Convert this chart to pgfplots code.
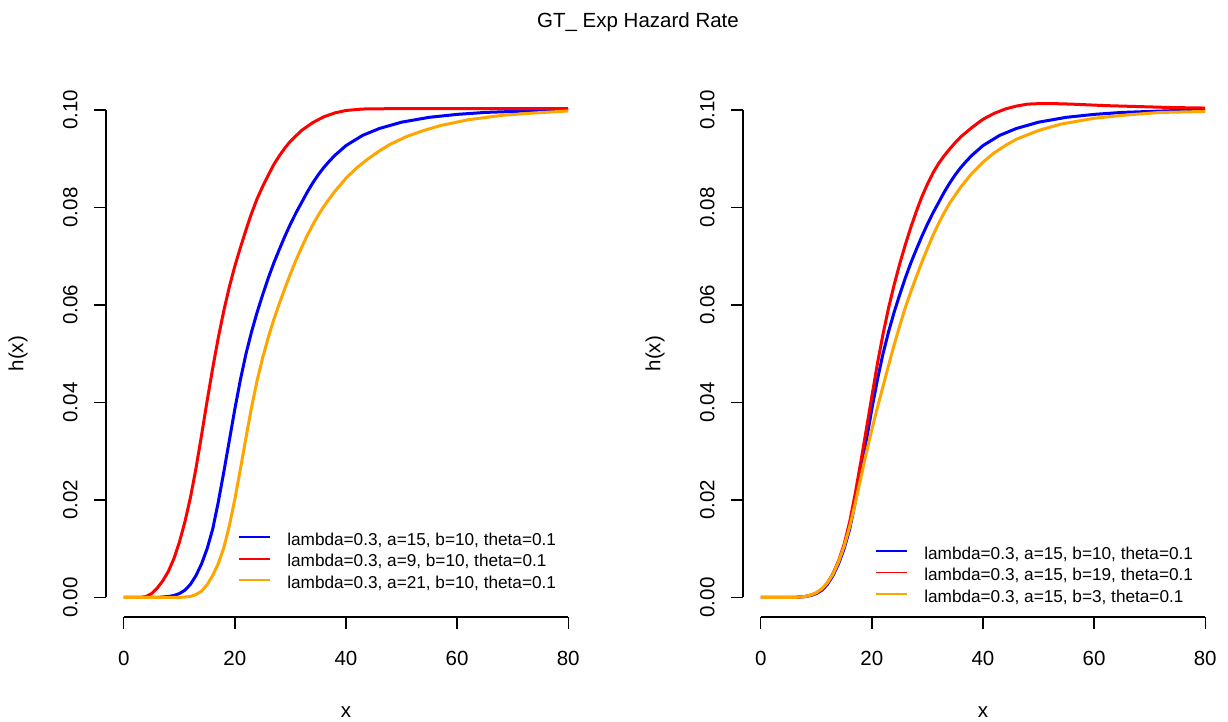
\documentclass[border=0pt]{standalone}
\usepackage{pgfplots}
\pgfplotsset{compat=1.18}
\usepackage{fontspec}
\setmainfont{Liberation Sans}
\definecolor{Rorange}{RGB}{255,165,0}
\newcommand{\mainsize}{\fontsize{10.25}{12}\selectfont}
\newcommand{\legsize}{\fontsize{8.6}{10}\selectfont}

\pgfplotstableread{
x y
0 0
6 0
8 0.0002
9 0.0004
10 0.0008
11 0.0015
12 0.0027
13 0.0045
14 0.0069
15 0.0100
16 0.0140
17 0.0195
18 0.0257
19 0.0322
20 0.0387
21 0.0447
22 0.0500
23 0.0545
24 0.0585
25 0.0621
26 0.0655
27 0.0686
28 0.0714
29 0.0741
30 0.0766
31 0.0789
32 0.0810
33 0.0831
34 0.0850
35 0.0867
36 0.0882
37 0.0895
38 0.0907
40 0.0927
43 0.0948
46 0.0962
50 0.0975
55 0.0985
60 0.0991
65 0.0995
70 0.0997
75 0.0999
80 0.1000
}\blueA

\pgfplotstableread{
x y
0 0
3 0
4 0.0002
5 0.0008
6 0.0019
7 0.0034
8 0.0053
9 0.0079
10 0.0113
11 0.0155
12 0.0205
13 0.0265
14 0.0333
15 0.0403
16 0.0470
17 0.0532
18 0.0588
19 0.0637
20 0.0680
21 0.0718
22 0.0754
23 0.0788
24 0.0818
25 0.0843
26 0.0866
27 0.0888
28 0.0906
29 0.0922
30 0.0936
32 0.0958
34 0.0974
36 0.0986
38 0.0994
40 0.0999
43 0.1002
50 0.1003
80 0.1003
}\redA

\pgfplotstableread{
x y
0 0
10 0
11 0.0001
12 0.0002
13 0.0006
14 0.0013
15 0.0026
16 0.0045
17 0.0069
18 0.0102
19 0.0147
20 0.0202
21 0.0264
22 0.0328
23 0.0390
24 0.0445
25 0.0492
26 0.0533
27 0.0570
28 0.0603
29 0.0634
30 0.0664
31 0.0692
32 0.0718
33 0.0742
34 0.0764
35 0.0784
36 0.0802
37 0.0818
38 0.0833
40 0.0860
42 0.0882
44 0.0900
46 0.0916
48 0.0930
51 0.0946
54 0.0958
57 0.0968
62 0.0980
68 0.0989
74 0.0994
80 0.0998
}\orangeA

\pgfplotstableread{
x y
0 0
6 0
8 0.0002
9 0.0005
10 0.0009
11 0.0017
12 0.0030
13 0.0049
14 0.0075
15 0.0109
16 0.0155
17 0.0213
18 0.0278
19 0.0345
20 0.0413
21 0.0480
22 0.0540
23 0.0594
24 0.0641
25 0.0684
26 0.0723
27 0.0759
28 0.0792
29 0.0822
30 0.0848
31 0.0871
32 0.0890
33 0.0906
34 0.0920
35 0.0933
36 0.0945
38 0.0964
40 0.0981
42 0.0993
44 0.1002
46 0.1008
48 0.1012
50 0.1013
53 0.1013
56 0.1012
62 0.1009
68 0.1007
74 0.1005
80 0.1004
}\redB

\pgfplotstableread{
x y
0 0
6 0
8 0.0002
9 0.0005
10 0.0010
11 0.0018
12 0.0030
13 0.0048
14 0.0073
15 0.0105
16 0.0145
17 0.0193
18 0.0245
19 0.0297
20 0.0345
21 0.0390
22 0.0433
23 0.0476
24 0.0518
25 0.0557
26 0.0594
27 0.0627
28 0.0658
29 0.0688
30 0.0716
31 0.0743
32 0.0767
33 0.0789
34 0.0809
36 0.0842
38 0.0870
40 0.0893
42 0.0912
44 0.0927
46 0.0940
50 0.0958
54 0.0971
60 0.0983
66 0.0990
72 0.0995
80 0.0997
}\orangeB

\pgfplotsset{
  Rpanel/.style={
    scale only axis, width=240pt, height=263.25pt,
    xmin=-3.2, xmax=83.2, ymin=-0.004, ymax=0.104,
    axis x line*=bottom, axis y line*=left,
    x axis line style={-, shorten <=8.889pt, shorten >=8.889pt},
    y axis line style={-, shorten <=9.75pt, shorten >=9.75pt},
    axis line style={black, line width=0.65pt},
    tick align=outside, major tick length=6pt,
    tick style={black, line width=0.65pt},
    xtick={0,20,40,60,80},
    ytick={0,0.02,0.04,0.06,0.08,0.1},
    yticklabels={0.00,0.02,0.04,0.06,0.08,0.10},
    /pgf/number format/assume math mode=true,
    ticklabel style={font=\mainsize, inner sep=0pt},
    xticklabel style={anchor=north},
    yticklabel style={rotate=90, anchor=south},
    xticklabel shift=11pt,
    yticklabel shift=8pt,
    xlabel={x}, ylabel={h(x)},
    label style={font=\mainsize, inner sep=0pt},
    xlabel style={at={(axis description cs:0.5,-0.19)}, anchor=base},
    ylabel style={at={(axis description cs:-0.172,0.5)}, anchor=base, rotate=0},
    legend cell align=left,
    legend image code/.code={\draw[##1, line width=0.95pt] (0pt,1.8pt) -- (15.5pt,1.8pt);},
    every axis plot/.append style={line width=1.5pt, line join=round, no markers},
  }
}

\begin{document}
\begin{tikzpicture}
\useasboundingbox (0,0) rectangle (614pt,361pt);
\node[anchor=base, font=\mainsize, inner sep=0pt] at (319pt,347pt) {GT\_ Exp Hazard Rate};

\begin{axis}[Rpanel, at={(53pt,52.5pt)}, anchor=south west,
  legend style={draw=none, fill=none, at={(axis description cs:0.275,0.1614)}, anchor=north west,
    inner sep=0pt, row sep=2.25pt, column sep=8pt, font=\legsize,
    nodes={inner sep=0pt, text height=6.5pt, text depth=2pt}}]
\addplot[blue] table[x=x, y=y] {\blueA};
\addlegendentry{lambda=0.3, a=15, b=10, theta=0.1}
\addplot[red] table[x=x, y=y] {\redA};
\addlegendentry{lambda=0.3, a=9, b=10, theta=0.1}
\addplot[Rorange] table[x=x, y=y] {\orangeA};
\addlegendentry{lambda=0.3, a=21, b=10, theta=0.1}
\end{axis}

\begin{axis}[Rpanel, at={(371.5pt,52.5pt)}, anchor=south west,
  legend style={draw=none, fill=none, at={(axis description cs:0.275,0.1354)}, anchor=north west,
    inner sep=0pt, row sep=2.25pt, column sep=8pt, font=\legsize,
    nodes={inner sep=0pt, text height=6.5pt, text depth=2pt}}]
\addplot[blue] table[x=x, y=y] {\blueA};
\addlegendentry{lambda=0.3, a=15, b=10, theta=0.1}
\addplot[red] table[x=x, y=y] {\redB};
\addlegendentry{lambda=0.3, a=15, b=19, theta=0.1}
\addplot[Rorange] table[x=x, y=y] {\orangeB};
\addlegendentry{lambda=0.3, a=15, b=3, theta=0.1}
\end{axis}
\end{tikzpicture}
\end{document}
